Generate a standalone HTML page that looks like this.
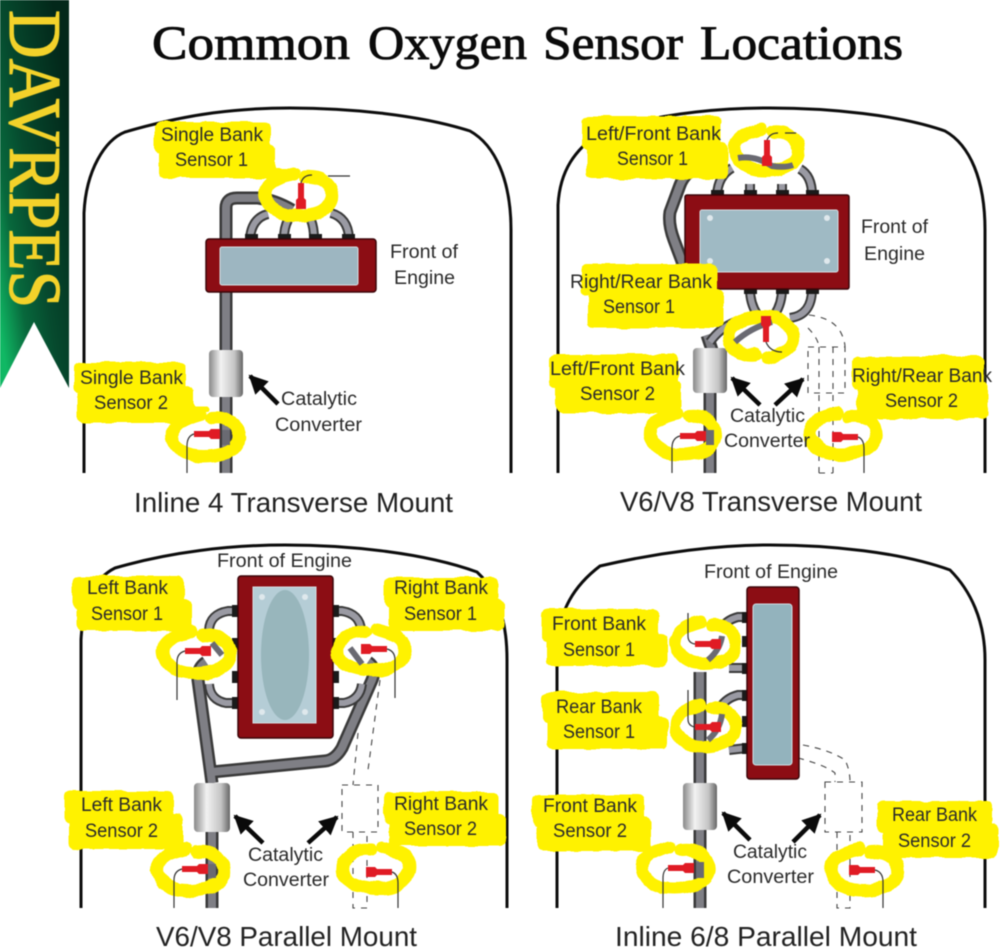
<!DOCTYPE html>
<html><head><meta charset="utf-8"><style>
html,body{margin:0;padding:0;background:#fff;width:1000px;height:951px;overflow:hidden}
svg{display:block;filter:blur(.4px)}
.l{font:19px "Liberation Sans",sans-serif;fill:#2a2a2a}
.c{font:28px "Liberation Sans",sans-serif;fill:#222}
.h{fill:none;stroke:#0c0c0c;stroke-width:3}
.w{fill:none;stroke:#333;stroke-width:1.2}
.d{fill:none;stroke:#444;stroke-width:1.1;stroke-dasharray:6 6}
.y{fill:#fff200}
.r{fill:none;stroke:#fff200;stroke-width:13;stroke-linecap:round}
.a{stroke:#0a0a0a;stroke-width:4.5;fill:none}
.t{font-family:"Liberation Serif",serif;font-size:48px;fill:#0b0b0b;stroke:#0b0b0b;stroke-width:.9px}
</style></head><body>
<svg width="1000" height="951" viewBox="0 0 1000 951" xmlns="http://www.w3.org/2000/svg">
<defs>
<linearGradient id="rib" x1="0.85" y1="0.1" x2="0" y2="0.85">
<stop offset="0" stop-color="#03281a"/><stop offset=".5" stop-color="#064a2e"/><stop offset=".75" stop-color="#08683c"/><stop offset="1" stop-color="#10b864"/>
</linearGradient>
<linearGradient id="cat" x1="0" x2="1" y1="0" y2="0">
<stop offset="0" stop-color="#888"/><stop offset=".35" stop-color="#f2f2f2"/><stop offset=".75" stop-color="#c4c4c4"/><stop offset="1" stop-color="#666"/>
</linearGradient>
<filter id="rough" x="-5%" y="-5%" width="110%" height="110%" color-interpolation-filters="sRGB">
<feTurbulence type="fractalNoise" baseFrequency=".06" numOctaves="2" seed="4"/>
<feDisplacementMap in="SourceGraphic" scale="5" xChannelSelector="R" yChannelSelector="G"/>
</filter>
<path id="sh" d="M0,-3 L15,-3 L17,-5 L26,-5 L26,5 L17,5 L15,3 L0,3Z" fill="#e01b24"/>
<path id="rg" d="M7,-20C24,-22 36,-11 34,2C31,15 10,20 -10,18C-28,15 -37,0 -31,-10C-26,-18 -12,-21 -5,-23"/>
<marker id="ah" viewBox="0 0 10 10" refX="9" refY="5" markerWidth="4.2" markerHeight="4.6" orient="auto"><path d="M0,0L10,5L0,10Z" fill="#0a0a0a"/></marker>
<g id="m1" fill="none"><path d="M226,473V208Q226,198 237,198H258Q275,200 292,210"/></g>
<g id="h1" fill="none"><path d="M250,238Q252,218 268,214"/><path d="M284,238Q284,228 288,220"/><path d="M314,238Q314,228 311,220"/><path d="M349,238Q348,218 331,213"/></g>
<g id="m2" fill="none"><path d="M710,473V393"/><path d="M707,335L712,350"/><path d="M700,165Q685,172 680,185L670,212Q668,224 674,240L686,272"/></g>
<g id="h2" fill="none">
<path d="M717,195Q718,176 732,168"/><path d="M750,195V184"/><path d="M782,195V184"/><path d="M812,195Q812,176 800,169"/>
<path d="M750,289Q750,303 757,314"/><path d="M782,289Q782,303 775,314"/><path d="M812,289Q812,315 790,318"/><path d="M735,322Q720,328 710,342"/>
</g>
<g id="m3" fill="none"><path d="M212,908V832"/><path d="M212,783L198,680Q197,668 206,662"/>
<path d="M212,772L325,761Q335,760 342,748L372,680Q377,668 368,662"/></g>
<g id="h3" fill="none">
<path d="M237,611H228Q210,614 209,630"/><path d="M237,703H226Q210,700 209,684"/>
<path d="M333,611H342Q360,614 361,630"/><path d="M333,703H344Q360,700 362,684"/>
</g>
<g id="m4" fill="none"><path d="M700,908V672"/></g>
<g id="h4" fill="none">
<path d="M747,617H738Q726,620 720,630"/><path d="M747,668L729,668"/>
<path d="M747,695H738Q726,698 720,708"/><path d="M747,748L729,750"/>
</g>
</defs>

<!-- ribbon -->
<path d="M0,0H69V388L34,322L0,388Z" fill="url(#rib)"/>
<text transform="translate(10,10) rotate(90)" font-family="Liberation Serif,serif" font-size="74" fill="#f3d22a" stroke="#f3d22a" stroke-width="1.2" textLength="298" lengthAdjust="spacingAndGlyphs">DAVRPES</text>
<text class="t" x="152" y="59" textLength="198" lengthAdjust="spacingAndGlyphs">Common</text>
<text class="t" x="368" y="59" textLength="159" lengthAdjust="spacingAndGlyphs">Oxygen</text>
<text class="t" x="543" y="59" textLength="140" lengthAdjust="spacingAndGlyphs">Sensor</text>
<text class="t" x="700" y="59" textLength="203" lengthAdjust="spacingAndGlyphs">Locations</text>

<!-- hoods -->
<path class="h" d="M84,473V213C86,170 105,140 125,132C190,113 240,108 290,108C350,108 420,115 470,131C495,145 511,180 511,230V473"/>
<path class="h" d="M558,473V205C560,170 575,150 600,132C660,113 720,108 770,108C830,108 900,115 945,131C970,145 985,180 985,230V473"/>
<path class="h" d="M81,908V640C83,600 95,578 115,568C170,552 230,545 285,545C350,545 425,553 477,572C497,590 507,620 507,660V908"/>
<path class="h" d="M557,908V650C558,610 575,585 600,566C660,552 720,545 770,545C830,545 900,552 950,570C970,590 985,620 985,660V908"/>

<!-- dashed pipes -->
<g class="d">
<path d="M809,315Q835,318 842,335Q845,342 845,347"/><path d="M808,328Q818,338 819,347"/>
<path d="M808,347H845V393H808Z"/><path d="M819,347V473"/><path d="M833,347V473"/><path d="M819,473H833"/>
<path d="M380,680L368,770"/><path d="M358,733L353,785"/><path d="M342,785H378V832H342Z"/><path d="M353,832V908H367V832"/>
<path d="M803,745Q830,750 845,760Q850,770 850,782"/><path d="M798,758Q825,765 835,773V782"/><path d="M825,782H862V832H825Z"/><path d="M837,832V908H850V832"/>
</g>

<!-- pipes -->
<g stroke="#3a3a3a" stroke-width="13"><use href="#m1"/><use href="#m2"/><use href="#m3"/><use href="#m4"/></g>
<g stroke="#7f7f85" stroke-width="8"><use href="#m1"/><use href="#m2"/><use href="#m3"/><use href="#m4"/></g>
<g stroke="#3a3a3a" stroke-width="10"><use href="#h1"/><use href="#h2"/><use href="#h3"/><use href="#h4"/></g>
<g stroke="#9a9aa3" stroke-width="6"><use href="#h1"/><use href="#h2"/><use href="#h3"/><use href="#h4"/></g>
<!-- ports -->
<g fill="#1a1a1a">
<rect x="245" y="234" width="13" height="6"/><rect x="278" y="234" width="13" height="6"/><rect x="309" y="234" width="13" height="6"/><rect x="342" y="234" width="13" height="6"/>
<rect x="711" y="190" width="13" height="6"/><rect x="744" y="190" width="13" height="6"/><rect x="776" y="190" width="13" height="6"/><rect x="806" y="190" width="13" height="6"/>
<rect x="744" y="288" width="13" height="6"/><rect x="776" y="288" width="13" height="6"/><rect x="806" y="288" width="13" height="6"/>
<rect x="232" y="605" width="7" height="12"/><rect x="232" y="697" width="7" height="12"/><rect x="332" y="605" width="7" height="12"/><rect x="332" y="697" width="7" height="12"/>
<rect x="232" y="638" width="7" height="12"/><rect x="232" y="671" width="7" height="12"/><rect x="332" y="638" width="7" height="12"/><rect x="332" y="671" width="7" height="12"/>
<rect x="742" y="612" width="6" height="11"/><rect x="742" y="636" width="6" height="11"/><rect x="742" y="663" width="6" height="11"/>
<rect x="742" y="690" width="6" height="11"/><rect x="742" y="716" width="6" height="11"/><rect x="742" y="743" width="6" height="11"/>
</g>

<!-- converters -->
<rect x="209" y="350" width="34" height="47" rx="4" fill="url(#cat)"/>
<rect x="693" y="348" width="34" height="45" rx="4" fill="url(#cat)"/>
<rect x="194" y="783" width="36" height="49" rx="4" fill="url(#cat)"/>
<rect x="683" y="783" width="34" height="47" rx="4" fill="url(#cat)"/>

<!-- engines -->
<rect x="206" y="239" width="170" height="53" rx="3" fill="#8c0d14" stroke="#3a0508" stroke-width="1.5"/>
<rect x="220" y="247" width="138" height="38" rx="2" fill="#9db6c1" stroke="#d5dfe4"/>
<rect x="685" y="195" width="164" height="94" rx="2" fill="#8c0d14" stroke="#3a0508" stroke-width="1.5"/>
<rect x="700" y="210" width="138" height="62" rx="2" fill="#9fbac4" stroke="#d5dfe4"/>
<g fill="#dfe8ec"><circle cx="710" cy="218" r="3"/><circle cx="827" cy="218" r="3"/><circle cx="710" cy="261" r="3"/><circle cx="827" cy="261" r="3"/></g>
<rect x="238" y="576" width="95" height="162" rx="3" fill="#8c0d14" stroke="#3a0508" stroke-width="1.5"/>
<rect x="253" y="587" width="63" height="136" fill="#b5cdd6" stroke="#d5dfe4"/>
<ellipse cx="285" cy="655" rx="24" ry="65" fill="#98b6bc"/>
<g fill="#dfe8ec"><circle cx="262" cy="597" r="3"/><circle cx="305" cy="597" r="3"/><circle cx="262" cy="712" r="3"/><circle cx="305" cy="712" r="3"/></g>
<rect x="747" y="587" width="52" height="192" rx="3" fill="#8c0d14" stroke="#3a0508" stroke-width="1.5"/>
<rect x="753" y="604" width="39" height="161" rx="3" fill="#93b3bd" stroke="#cfe0e5"/>

<!-- yellow -->
<g filter="url(#rough)">
<g class="y">
<rect x="154" y="122" width="117" height="32" rx="6"/><rect x="159" y="145" width="117" height="33" rx="6"/>
<rect x="74" y="362" width="112" height="32" rx="6"/><rect x="78" y="385" width="116" height="38" rx="6"/>
<rect x="582" y="116" width="139" height="34" rx="6"/><rect x="587" y="142" width="141" height="37" rx="6"/>
<rect x="581" y="264" width="136" height="32" rx="6"/><rect x="588" y="289" width="135" height="39" rx="6"/>
<rect x="549" y="354" width="130" height="34" rx="6"/><rect x="556" y="379" width="125" height="34" rx="6"/>
<rect x="852" y="356" width="132" height="34" rx="6"/><rect x="857" y="381" width="131" height="38" rx="6"/>
<rect x="72" y="576" width="112" height="32" rx="6"/><rect x="77" y="599" width="114" height="32" rx="6"/>
<rect x="384" y="577" width="114" height="32" rx="6"/><rect x="389" y="599" width="115" height="32" rx="6"/>
<rect x="64" y="791" width="110" height="32" rx="6"/><rect x="69" y="814" width="114" height="35" rx="6"/>
<rect x="384" y="792" width="114" height="32" rx="6"/><rect x="389" y="814" width="117" height="32" rx="6"/>
<rect x="542" y="609" width="117" height="32" rx="6"/><rect x="547" y="634" width="121" height="32" rx="6"/>
<rect x="542" y="692" width="117" height="32" rx="6"/><rect x="547" y="717" width="121" height="32" rx="6"/>
<rect x="532" y="794" width="112" height="32" rx="6"/><rect x="537" y="817" width="114" height="34" rx="6"/>
<rect x="877" y="801" width="114" height="32" rx="6"/><rect x="883" y="824" width="115" height="34" rx="6"/>
</g>
<g class="r">
<use href="#rg" transform="translate(298,197)"/><path d="M272,171H298" stroke-width="5"/>
<use href="#rg" transform="translate(205,438)"/><path d="M192,409H207" stroke-width="5"/>
<use href="#rg" transform="translate(766,152) scale(.95,1)"/>
<use href="#rg" transform="translate(762,335) scale(-.97,-1)"/>
<use href="#rg" transform="translate(682,436) scale(.97,1)"/>
<use href="#rg" transform="translate(842,436)"/>
<use href="#rg" transform="translate(196,655)"/>
<use href="#rg" transform="translate(372,652) scale(-1,1)"/>
<use href="#rg" transform="translate(190,872)"/>
<use href="#rg" transform="translate(377,870) scale(-1,1)"/>
<use href="#rg" transform="translate(705,645) scale(.9,1)"/>
<use href="#rg" transform="translate(705,728) scale(.9,1)"/>
<use href="#rg" transform="translate(675,870)"/>
<use href="#rg" transform="translate(864,872)"/>
</g>
</g>

<!-- pipe parts visible inside rings -->
<g stroke="#6a6a72" stroke-width="8" fill="none">
<path d="M226,430V445"/><path d="M710,430V445"/><path d="M212,864V878"/><path d="M700,862V878"/>
<path d="M738,158Q755,155 772,166Q785,168 793,165" stroke-width="6"/>
<path d="M735,342Q750,328 772,322" stroke-width="6"/>
<path d="M212,643L222,655" stroke-width="6"/><path d="M350,648L362,664" stroke-width="6"/>
<path d="M722,636Q720,650 708,660" stroke-width="6"/><path d="M722,714Q720,730 708,740" stroke-width="6"/>
</g>

<!-- sensors and wires -->
<use href="#sh" transform="translate(301,183) rotate(90)"/>
<path class="w" d="M301,183Q303,175 312,175M328,176H350"/>
<use href="#sh" transform="translate(194,434)"/>
<path class="w" d="M194,434Q187,436 187,446V473"/>
<use href="#sh" transform="translate(767,140) rotate(90)"/>
<path class="w" d="M767,140Q770,133 778,133M785,133H796"/>
<use href="#sh" transform="translate(766,342) rotate(-90)"/>
<path class="w" d="M766,342Q770,352 782,352"/>
<use href="#sh" transform="translate(680,436)"/>
<path class="w" d="M680,436Q672,438 672,448V473"/>
<use href="#sh" transform="translate(858,437) scale(-1,1)"/>
<path class="w" d="M858,437Q864,439 864,449V473"/>
<use href="#sh" transform="translate(185,651)"/>
<path class="w" d="M185,651Q177,653 177,662V700"/>
<use href="#sh" transform="translate(387,649) scale(-1,1)"/>
<path class="w" d="M387,649Q395,651 395,660V698"/>
<use href="#sh" transform="translate(182,869)"/>
<path class="w" d="M182,869Q174,871 174,880V908"/>
<use href="#sh" transform="translate(392,872) scale(-1,1)"/>
<path class="w" d="M392,872Q398,874 398,883V908"/>
<use href="#sh" transform="translate(695,644)"/>
<path class="w" d="M695,644Q688,643 688,636V613"/>
<use href="#sh" transform="translate(695,727)"/>
<path class="w" d="M695,727Q688,726 688,719V690"/>
<use href="#sh" transform="translate(668,868)"/>
<path class="w" d="M668,868Q663,870 663,878V908"/>
<use href="#sh" transform="translate(875,870) scale(-1,1)"/>
<path class="w" d="M875,870Q883,872 883,882V908"/>

<!-- arrows -->
<g class="a">
<path d="M278,404L250,376" marker-end="url(#ah)"/>
<path d="M760,405L732,378" marker-end="url(#ah)"/>
<path d="M775,405L803,379" marker-end="url(#ah)"/>
<path d="M263,843L235,816" marker-end="url(#ah)"/>
<path d="M308,843L337,817" marker-end="url(#ah)"/>
<path d="M750,840L723,813" marker-end="url(#ah)"/>
<path d="M793,842L820,815" marker-end="url(#ah)"/>
</g>

<!-- labels -->
<text class="l" x="161" y="141" textLength="102" lengthAdjust="spacingAndGlyphs">Single Bank</text>
<text class="l" x="175" y="166" textLength="73" lengthAdjust="spacingAndGlyphs">Sensor 1</text>
<text class="l" x="80" y="384" textLength="103" lengthAdjust="spacingAndGlyphs">Single Bank</text>
<text class="l" x="94" y="409" textLength="74" lengthAdjust="spacingAndGlyphs">Sensor 2</text>
<text class="l" x="390" y="258" textLength="68" lengthAdjust="spacingAndGlyphs">Front of</text>
<text class="l" x="394" y="284" textLength="61" lengthAdjust="spacingAndGlyphs">Engine</text>
<text class="l" x="281" y="405" textLength="76" lengthAdjust="spacingAndGlyphs">Catalytic</text>
<text class="l" x="275" y="431" textLength="87" lengthAdjust="spacingAndGlyphs">Converter</text>
<text class="c" x="134" y="512" textLength="319" lengthAdjust="spacingAndGlyphs">Inline 4 Transverse Mount</text>

<text class="l" x="586" y="140" textLength="135" lengthAdjust="spacingAndGlyphs">Left/Front Bank</text>
<text class="l" x="617" y="165" textLength="71" lengthAdjust="spacingAndGlyphs">Sensor 1</text>
<text class="l" x="570" y="288" textLength="142" lengthAdjust="spacingAndGlyphs">Right/Rear Bank</text>
<text class="l" x="603" y="313" textLength="72" lengthAdjust="spacingAndGlyphs">Sensor 1</text>
<text class="l" x="550" y="375" textLength="135" lengthAdjust="spacingAndGlyphs">Left/Front Bank</text>
<text class="l" x="580" y="400" textLength="75" lengthAdjust="spacingAndGlyphs">Sensor 2</text>
<text class="l" x="852" y="382" textLength="140" lengthAdjust="spacingAndGlyphs">Right/Rear Bank</text>
<text class="l" x="885" y="407" textLength="73" lengthAdjust="spacingAndGlyphs">Sensor 2</text>
<text class="l" x="861" y="233" textLength="67" lengthAdjust="spacingAndGlyphs">Front of</text>
<text class="l" x="864" y="260" textLength="61" lengthAdjust="spacingAndGlyphs">Engine</text>
<text class="l" x="730" y="422" textLength="75" lengthAdjust="spacingAndGlyphs">Catalytic</text>
<text class="l" x="724" y="447" textLength="86" lengthAdjust="spacingAndGlyphs">Converter</text>
<text class="c" x="620" y="511" textLength="302" lengthAdjust="spacingAndGlyphs">V6/V8 Transverse Mount</text>

<text class="l" x="217" y="567" textLength="135" lengthAdjust="spacingAndGlyphs">Front of Engine</text>
<text class="l" x="87" y="594" textLength="81" lengthAdjust="spacingAndGlyphs">Left Bank</text>
<text class="l" x="91" y="620" textLength="72" lengthAdjust="spacingAndGlyphs">Sensor 1</text>
<text class="l" x="394" y="594" textLength="94" lengthAdjust="spacingAndGlyphs">Right Bank</text>
<text class="l" x="404" y="620" textLength="73" lengthAdjust="spacingAndGlyphs">Sensor 1</text>
<text class="l" x="81" y="811" textLength="81" lengthAdjust="spacingAndGlyphs">Left Bank</text>
<text class="l" x="85" y="837" textLength="73" lengthAdjust="spacingAndGlyphs">Sensor 2</text>
<text class="l" x="394" y="810" textLength="94" lengthAdjust="spacingAndGlyphs">Right Bank</text>
<text class="l" x="404" y="835" textLength="73" lengthAdjust="spacingAndGlyphs">Sensor 2</text>
<text class="l" x="248" y="861" textLength="75" lengthAdjust="spacingAndGlyphs">Catalytic</text>
<text class="l" x="243" y="886" textLength="86" lengthAdjust="spacingAndGlyphs">Converter</text>
<text class="c" x="156" y="946" textLength="261" lengthAdjust="spacingAndGlyphs">V6/V8 Parallel Mount</text>

<text class="l" x="704" y="578" textLength="134" lengthAdjust="spacingAndGlyphs">Front of Engine</text>
<text class="l" x="552" y="630" textLength="94" lengthAdjust="spacingAndGlyphs">Front Bank</text>
<text class="l" x="563" y="656" textLength="72" lengthAdjust="spacingAndGlyphs">Sensor 1</text>
<text class="l" x="556" y="713" textLength="86" lengthAdjust="spacingAndGlyphs">Rear Bank</text>
<text class="l" x="563" y="738" textLength="72" lengthAdjust="spacingAndGlyphs">Sensor 1</text>
<text class="l" x="543" y="812" textLength="94" lengthAdjust="spacingAndGlyphs">Front Bank</text>
<text class="l" x="553" y="837" textLength="74" lengthAdjust="spacingAndGlyphs">Sensor 2</text>
<text class="l" x="892" y="821" textLength="85" lengthAdjust="spacingAndGlyphs">Rear Bank</text>
<text class="l" x="898" y="847" textLength="73" lengthAdjust="spacingAndGlyphs">Sensor 2</text>
<text class="l" x="733" y="858" textLength="74" lengthAdjust="spacingAndGlyphs">Catalytic</text>
<text class="l" x="727" y="883" textLength="87" lengthAdjust="spacingAndGlyphs">Converter</text>
<text class="c" x="615" y="946" textLength="302" lengthAdjust="spacingAndGlyphs">Inline 6/8 Parallel Mount</text>
</svg>
</body></html>
